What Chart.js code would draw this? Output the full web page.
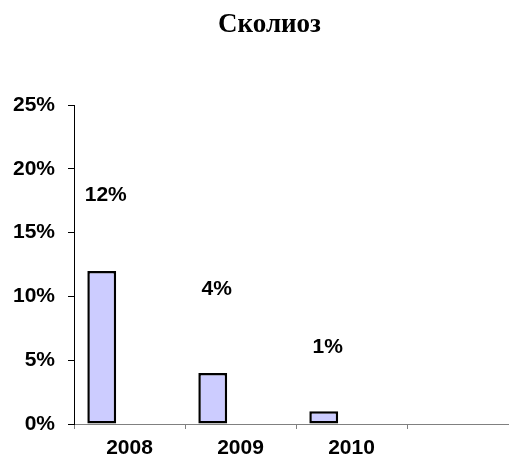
<!DOCTYPE html>
<html lang="ru">
<head>
    <meta charset="UTF-8">
    <title>Сколиоз</title>
    <style>
        html, body {
            margin: 0;
            padding: 0;
            background: #ffffff;
            overflow: hidden;
        }
        #wrap {
            width: 520px;
            height: 456px;
        }
    </style>
    <script src="https://cdn.jsdelivr.net/npm/chart.js"></script>
</head>
<body>
    <div id="wrap"><canvas id="chart" width="520" height="456"></canvas></div>
    <script>
        // данные с картинки
        var years = ['2008', '2009', '2010', ''];
        var scoliosis = [12, 4, 1, null];
        var emptySeries = [null, null, null, null];
        var yTicks = [0, 5, 10, 15, 20, 25];
        var chartTitle = 'Сколиоз';

        // заголовок (чуть правее центра холста, как в оригинале)
        var titlePlugin = {
            id: 'titleText',
            afterDraw: function (chart, args, opts) {
                var ctx = chart.ctx;
                ctx.save();
                ctx.font = 'bold 27px "Liberation Serif", "Times New Roman", serif';
                ctx.fillStyle = '#000';
                ctx.textAlign = 'center';
                ctx.textBaseline = 'middle';
                ctx.fillText(chartTitle, opts.x, opts.y);
                ctx.restore();
            }
        };

        // подписи значений над столбиками (сдвиг вверх в пикселях)
        var valueLabels = {
            id: 'valueLabels',
            afterDatasetsDraw: function (chart, args, opts) {
                var ctx = chart.ctx;
                var meta = chart.getDatasetMeta(0);
                ctx.save();
                ctx.font = 'bold 21px "Liberation Sans", Arial, sans-serif';
                ctx.fillStyle = '#000';
                ctx.textAlign = 'center';
                ctx.textBaseline = 'middle';
                meta.data.forEach(function (bar, i) {
                    var v = scoliosis[i];
                    if (v === null) return;
                    ctx.fillText(v + '%', bar.x + 4, bar.y - opts.lift[i]);
                });
                ctx.restore();
            }
        };

        new Chart(document.getElementById('chart'), {
            type: 'bar',
            data: {
                labels: years,
                datasets: [{
                    data: scoliosis,
                    backgroundColor: '#ccccff',
                    borderColor: '#000000',
                    borderWidth: 2.5,
                    borderSkipped: false,
                    categoryPercentage: 1,
                    barPercentage: 0.52
                }, {
                    data: emptySeries,
                    categoryPercentage: 1,
                    barPercentage: 0.52
                }]
            },
            options: {
                responsive: false,
                animation: false,
                layout: { padding: { left: 0, right: 2, top: 105, bottom: 0 } },
                plugins: {
                    legend: { display: false },
                    tooltip: { enabled: false },
                    title: { display: false },
                    titleText: { x: 269.5, y: 25 },
                    valueLabels: { lift: [76, 84, 64] }
                },
                scales: {
                    x: {
                        grid: {
                            offset: true,
                            drawOnChartArea: false,
                            tickLength: 5,
                            color: '#808080'
                        },
                        border: { color: '#808080', width: 1 },
                        ticks: {
                            color: '#000',
                            padding: 7,
                            font: { family: '"Liberation Sans", Arial, sans-serif', size: 21, weight: 'bold' }
                        },
                        afterFit: function (scale) { scale.height = 32; }
                    },
                    y: {
                        min: 0,
                        max: 25,
                        afterBuildTicks: function (scale) {
                            scale.ticks = yTicks.map(function (v) { return { value: v }; });
                        },
                        grid: {
                            drawOnChartArea: false,
                            tickLength: 6,
                            color: '#000'
                        },
                        border: { color: '#000', width: 1 },
                        ticks: {
                            color: '#000',
                            padding: 13,
                            font: { family: '"Liberation Sans", Arial, sans-serif', size: 21, weight: 'bold' },
                            callback: function (v) { return v + '%'; }
                        },
                        afterFit: function (scale) { scale.width = 74; }
                    }
                }
            },
            plugins: [valueLabels, titlePlugin]
        });
    </script>
</body>
</html>
